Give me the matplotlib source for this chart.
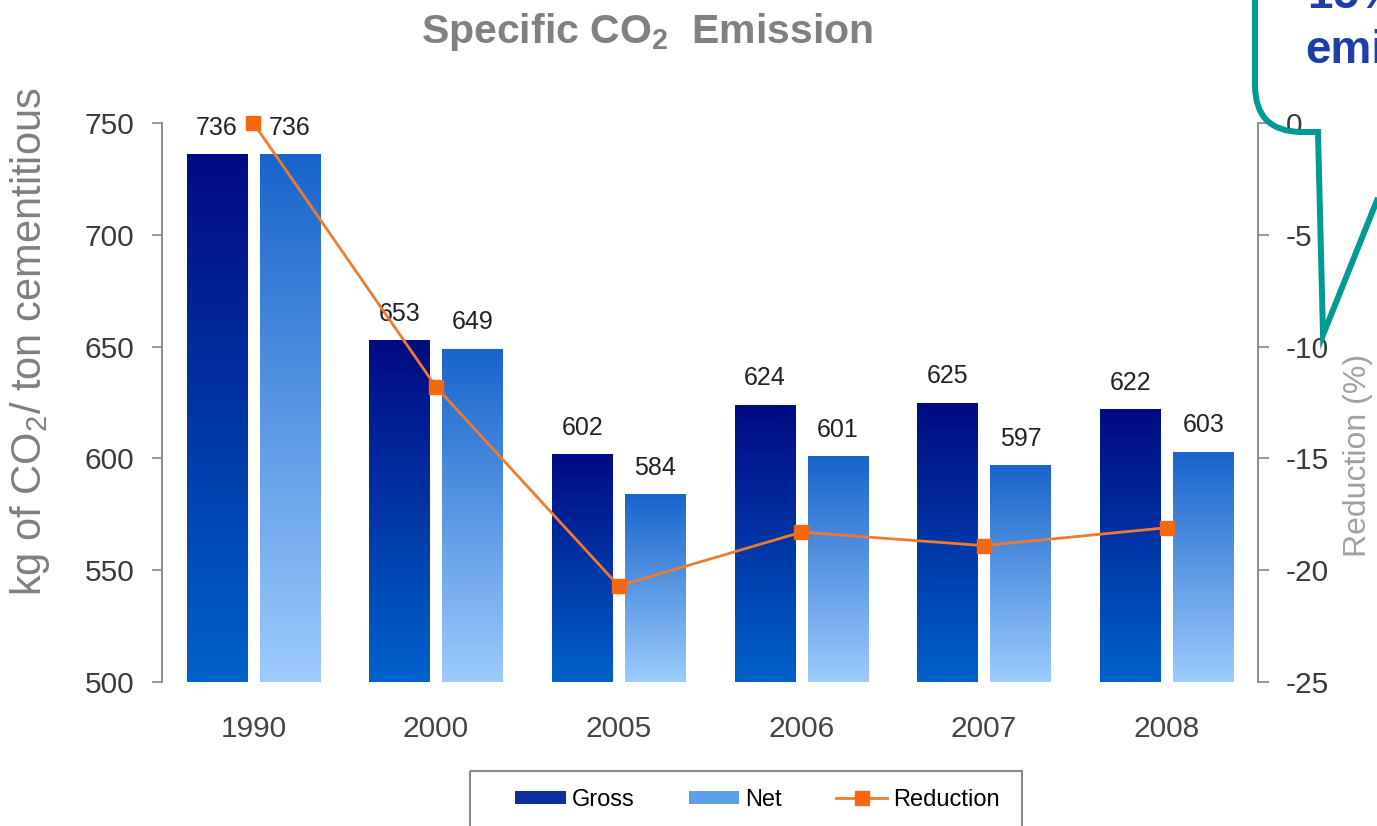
import numpy as np
import matplotlib
matplotlib.use('Agg')
import matplotlib.pyplot as plt
from matplotlib.colors import LinearSegmentedColormap
from matplotlib.patches import Patch, PathPatch, Rectangle
from matplotlib.lines import Line2D
from matplotlib.path import Path

plt.rcParams['font.family'] = ['Liberation Sans', 'DejaVu Sans']
plt.rcParams['mathtext.fontset'] = 'custom'
plt.rcParams['mathtext.rm'] = 'Liberation Sans'
plt.rcParams['mathtext.bf'] = 'Liberation Sans:bold'
plt.rcParams['axes.unicode_minus'] = False

# Specific CO2 emission per year (kg CO2 / ton cementitious)
years = ['1990', '2000', '2005', '2006', '2007', '2008']
gross = [736, 653, 602, 624, 625, 622]
net = [736, 649, 584, 601, 597, 603]
# reduction of net emission vs. 1990, in %
reduction = [0, -11.8, -20.7, -18.3, -18.9, -18.1]

W, H = 1377, 826
fig = plt.figure(figsize=(W / 100, H / 100), dpi=100)
ax = fig.add_axes([162 / W, 144 / H, 1096 / W, 559 / H])

x = np.arange(len(years))
bw = 0.33
gbars = ax.bar(x - 0.2, gross, bw, color='none', edgecolor='none')
nbars = ax.bar(x + 0.2, net, bw, color='none', edgecolor='none')


def fill_gradient(bars, top_col, bottom_col):
    cmap = LinearSegmentedColormap.from_list('grad', [bottom_col, top_col])
    grad = np.linspace(0, 1, 256).reshape(-1, 1)
    for b in bars:
        x0 = b.get_x()
        x1 = x0 + b.get_width()
        im = ax.imshow(grad, extent=[x0, x1, 500, b.get_height()], origin='lower',
                       cmap=cmap, aspect='auto', zorder=2, interpolation='bilinear')
        im.set_clip_path(b)


fill_gradient(gbars, '#000a82', '#0062cc')
fill_gradient(nbars, '#1864cc', '#9dcbfb')

for bars, vals in ((gbars, gross), (nbars, net)):
    for b, v in zip(bars, vals):
        ax.annotate(str(v), (b.get_x() + b.get_width() / 2, v), xytext=(0, 19),
                    textcoords='offset points', ha='center', va='center',
                    fontsize=18, color='#222222')

ax.set_xlim(-0.5, 5.5)
ax.set_ylim(500, 750)
ax.set_yticks(np.arange(500, 751, 50))
ax.set_xticks(x)
ax.set_xticklabels(years)
for s in ('top', 'right', 'bottom'):
    ax.spines[s].set_visible(False)
ax.spines['left'].set_color('#868686')
ax.spines['left'].set_linewidth(1.3)
ax.tick_params(axis='y', length=7, width=1.2, color='#868686', pad=13,
               labelsize=21.5, labelcolor='#3a3a3a')
ax.tick_params(axis='x', length=0, pad=24, labelsize=21.5, labelcolor='#444444')

ax2 = ax.twinx()
ax2.plot(x, reduction, color='#ef7a30', lw=2, marker='s', ms=10,
         mfc='#f5680f', mec='#f5680f', clip_on=False, zorder=5)
ax2.set_ylim(-25, 0)
ax2.set_yticks(np.arange(-25, 1, 5))
for s in ('top', 'left', 'bottom'):
    ax2.spines[s].set_visible(False)
ax2.spines['right'].set_color('#868686')
ax2.spines['right'].set_linewidth(1.3)
ax2.tick_params(axis='y', length=8, width=1.2, color='#868686', pad=12,
                labelsize=21.5, labelcolor='#3a3a3a')

fig.text(647 / W, 1 - 32 / H, r'Specific CO$_\mathbf{2}$  Emission', ha='center',
         va='center', fontsize=29.5, weight='bold', color='#808080')
fig.text(30 / W, 1 - 342 / H, r'kg of CO$_2$/ ton cementitious', rotation=90,
         ha='center', va='center', fontsize=30, color='#7f7f7f')
fig.text(1358 / W, 1 - 455 / H, 'Reduction (%)', rotation=90, ha='center',
         va='center', fontsize=23, color='#a0a0a0')

# overlay in pixel units for the legend frame and the callout
ov = fig.add_axes([0, 0, 1, 1], zorder=10)
ov.set_xlim(0, W)
ov.set_ylim(H, 0)
ov.axis('off')
ov.patch.set_alpha(0)

ov.add_patch(Rectangle((470, 771), 552, 80, fill=False, edgecolor='#8a8a8a',
                       lw=1.5, clip_on=False))
handles = [Patch(facecolor='#0d2f9e', label='Gross'),
           Patch(facecolor='#5da0ea', label='Net'),
           Line2D([], [], color='#ef7a30', lw=2, marker='s', ms=10,
                  mfc='#f5680f', mec='#f5680f', label='Reduction')]
fig.legend(handles=handles, loc='center left', bbox_to_anchor=(515 / W, 1 - 800 / H),
           ncol=3, frameon=False, fontsize=17, handlelength=2.15, handleheight=0.5,
           handletextpad=0.25, columnspacing=2.3, borderpad=0, borderaxespad=0)

verts = [(1255, -20), (1255, 85), (1255, 132), (1302, 132), (1318, 132),
         (1323, 335), (1400, 143)]
codes = [Path.MOVETO, Path.LINETO, Path.CURVE3, Path.CURVE3, Path.LINETO,
         Path.LINETO, Path.LINETO]
ov.add_patch(PathPatch(Path(verts, codes), fill=False, edgecolor='#009a94', lw=4.3,
                       joinstyle='miter', capstyle='butt'))
ov.text(1308, 8, '15% reduction', color='#1d3ea8', weight='bold', fontsize=33,
        ha='left', va='baseline')
ov.text(1305, 63, 'emissions', color='#1d3ea8', weight='bold', fontsize=33,
        ha='left', va='baseline')

fig.savefig('out.png', dpi=100)
